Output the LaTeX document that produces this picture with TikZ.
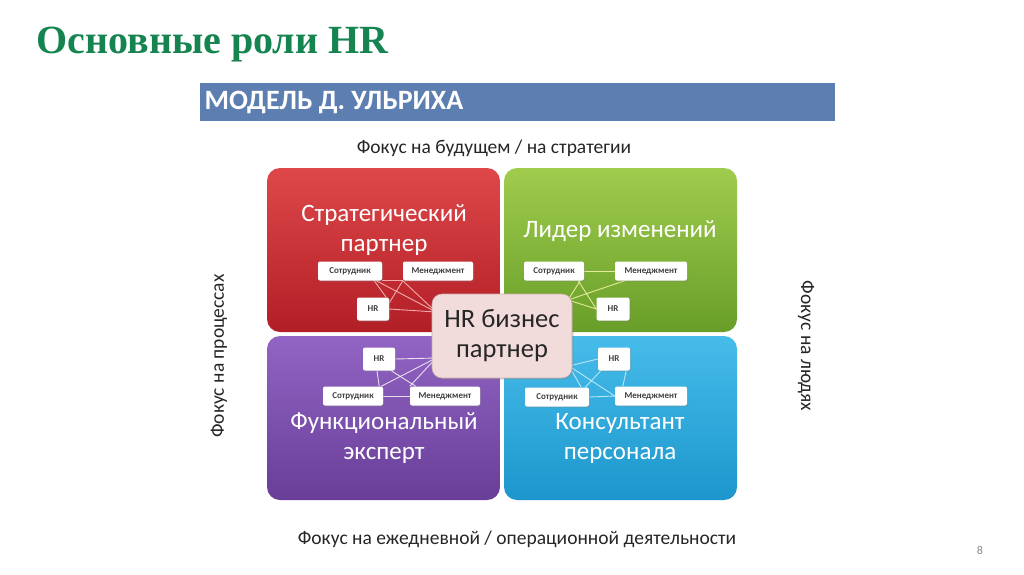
\documentclass[tikz,border=0pt]{standalone}
\usepackage{fontspec}
\setmainfont{Carlito}
\newfontfamily\titlefont{Liberation Serif}
\usetikzlibrary{shadows,calc}
\pgfdeclarelayer{bg}
\pgfdeclarelayer{lns}
\pgfsetlayers{bg,lns,main}
\definecolor{titlegreen}{RGB}{22,132,80}
\definecolor{banner}{RGB}{92,126,176}
\definecolor{redT}{RGB}{222,72,74}
\definecolor{redB}{RGB}{178,30,38}
\definecolor{grnT}{RGB}{160,204,78}
\definecolor{grnB}{RGB}{104,158,40}
\definecolor{purT}{RGB}{146,100,196}
\definecolor{purB}{RGB}{104,62,152}
\definecolor{cyaT}{RGB}{70,188,234}
\definecolor{cyaB}{RGB}{28,150,204}
\definecolor{centerfill}{RGB}{242,220,219}
\definecolor{centerdraw}{RGB}{200,170,170}
\tikzset{
  quad/.style={rounded corners=13pt},
  smallbox/.style={fill=white, rounded corners=2pt, inner sep=0pt, minimum height=19pt,
    font=\fontsize{9}{10}\selectfont\bfseries, text=black!75,
    drop shadow={shadow xshift=1pt, shadow yshift=-1pt, opacity=0.35}},
  qlabel/.style={text=white, align=center, font=\fontsize{25}{30}\selectfont},
  focus/.style={font=\fontsize{19.5}{21}\selectfont, text=black!85},
  link/.style={line width=0.9pt, opacity=0.8},
}
\begin{document}
\begin{tikzpicture}[x=1pt,y=-1pt]
\useasboundingbox (0,0) rectangle (1024,574);
\begin{pgfonlayer}{bg}
\fill[white] (0,0) rectangle (1024,574);
\end{pgfonlayer}

% title
\node[anchor=west, text=titlegreen, font=\titlefont\fontsize{40}{44}\selectfont\bfseries] (title) at (33,45) {Основные роли HR};

% banner
\fill[banner] (200,83) rectangle (835,121);
\node[anchor=west, text=white, font=\fontsize{28}{30}\selectfont\bfseries] (bannertext) at (201,102) {МОДЕЛЬ Д. УЛЬРИХА};

% focus labels
\node[focus] (ftop) at (494,148) {Фокус на будущем / на стратегии};
\node[focus] (fbot) at (517,539) {Фокус на ежедневной / операционной деятельности};
\node[focus, rotate=90] (fleft) at (219,356) {Фокус на процессах};
\node[focus, rotate=-90] (fright) at (806,346) {Фокус на людях};

% quadrants
\begin{pgfonlayer}{bg}
\shade[quad, top color=redT, bottom color=redB] (267,168) rectangle (500,332);
\shade[quad, top color=grnT, bottom color=grnB] (504,168) rectangle (737,332);
\shade[quad, top color=purT, bottom color=purB] (267,336) rectangle (500,500);
\shade[quad, top color=cyaT, bottom color=cyaB] (504,336) rectangle (737,500);
\end{pgfonlayer}

\node[qlabel] (lred) at (384,230) {Стратегический\\партнер};
\node[qlabel] (lgrn) at (620,231) {Лидер изменений};
\node[qlabel] (lpur) at (384,438) {Функциональный\\эксперт};
\node[qlabel] (lcya) at (620,438) {Консультант\\персонала};

% small boxes - red
\node[smallbox, minimum width=64pt] (rS) at (350,271) {Сотрудник};
\node[smallbox, minimum width=70pt] (rM) at (438,271) {Менеджмент};
\node[smallbox, minimum width=32pt, minimum height=23pt] (rH) at (373,309) {HR};
% green
\node[smallbox, minimum width=60pt] (gS) at (554,271) {Сотрудник};
\node[smallbox, minimum width=72pt] (gM) at (651,271) {Менеджмент};
\node[smallbox, minimum width=33pt, minimum height=23pt] (gH) at (613,309) {HR};
% purple
\node[smallbox, minimum width=32pt, minimum height=23pt] (pH) at (379,359) {HR};
\node[smallbox, minimum width=60pt] (pS) at (353,396) {Сотрудник};
\node[smallbox, minimum width=70pt] (pM) at (445,396) {Менеджмент};
% cyan
\node[smallbox, minimum width=32pt, minimum height=23pt] (cH) at (614,359) {HR};
\node[smallbox, minimum width=64pt] (cS) at (557,397) {Сотрудник};
\node[smallbox, minimum width=72pt] (cM) at (651,396) {Менеджмент};

% center box
\node[fill=centerfill, draw=centerdraw, line width=0.6pt, rounded corners=10pt,
  minimum width=140pt, minimum height=84pt, align=center, text=black!85,
  font=\fontsize{26.5}{30}\selectfont,
  drop shadow={shadow xshift=1.5pt, shadow yshift=-1.5pt, opacity=0.3}] (ctr) at (502,336) {HR бизнес\\партнер};

\coordinate (rC) at (436,312);
\coordinate (gC) at (568,300);
\coordinate (pC) at (436,358);
\coordinate (cC) at (569,366);

\begin{pgfonlayer}{lns}
% red links
\draw[link, draw=red!20] (rS.south east) -- (rM.south west);
\draw[link, draw=red!20] ($(rS.south east)+(-8,0)$) -- ($(rH.north east)+(-3,0)$);
\draw[link, draw=red!20] (rM.south west) -- ($(rH.east)+(0,-6)$);
\draw[link, draw=red!20] ($(rS.south east)+(-6,0)$) -- (rC);
\draw[link, draw=red!20] (rM.south west) -- (rC);
\draw[link, draw=red!20] (rH.east) -- (rC);
% green links
\draw[link, draw=yellow!30!white] (gS.east) -- (gM.west);
\draw[link, draw=yellow!30!white] ($(gS.south east)+(-6,0)$) -- (gH.west);
\draw[link, draw=yellow!30!white] ($(gM.south west)+(10,0)$) -- (gC);
\draw[link, draw=yellow!30!white] ($(gS.south east)+(-4,0)$) -- (gC);
\draw[link, draw=yellow!30!white] (gH.west) -- (gC);
% purple links
\draw[link, draw=white] (pH.east) -- (pC);
\draw[link, draw=white] ($(pH.south east)+(-4,0)$) -- ($(pM.north west)+(6,0)$);
\draw[link, draw=white] ($(pH.south)+(-2,0)$) -- ($(pS.north east)+(-4,0)$);
\draw[link, draw=white] ($(pS.north east)+(-2,0)$) -- (pC);
\draw[link, draw=white] (pM.north west) -- (pC);
\draw[link, draw=white] (pS.east) -- (pM.west);
% cyan links
\draw[link, draw=cyan!15!white] (cH.west) -- (cC);
\draw[link, draw=cyan!15!white] ($(cH.south west)+(3,0)$) -- ($(cS.north east)+(-4,0)$);
\draw[link, draw=cyan!15!white] ($(cH.south east)+(-4,0)$) -- ($(cM.north west)+(8,0)$);
\draw[link, draw=cyan!15!white] (cC) -- (cM.west);
\draw[link, draw=cyan!15!white] (cC) -- ($(cS.north east)+(-8,0)$);
\draw[link, draw=cyan!15!white] (cS.east) -- (cM.west);
\end{pgfonlayer}

% page number
\node[text=black!45, font=\fontsize{12}{12}\selectfont] (pagenum) at (980,550) {8};
\end{tikzpicture}
\end{document}
